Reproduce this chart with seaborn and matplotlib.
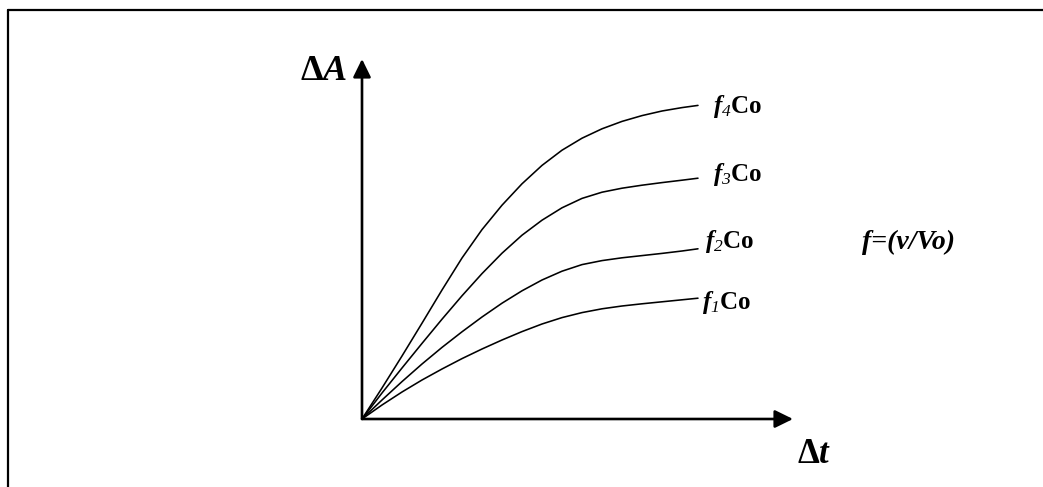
import numpy as np
import pandas as pd
import matplotlib
matplotlib.use("Agg")
import matplotlib.pyplot as plt
from matplotlib.lines import Line2D
import seaborn as sns

# Elapsed time (Δt), shared by every curve (arbitrary units)
delta_t = [0, 1, 2, 3, 4, 5, 6, 7, 8, 9, 10, 11, 12, 13, 14, 15, 16, 16.8]

# Absorbance change (ΔA) for each dilution factor f·Co (arbitrary units)
dA_f1 = [0, 0.70, 1.35, 1.95, 2.50, 3.02, 3.50, 3.95, 4.37, 4.75, 5.07, 5.32,
         5.51, 5.65, 5.76, 5.86, 5.96, 6.04]
dA_f2 = [0, 0.95, 1.87, 2.75, 3.58, 4.36, 5.10, 5.79, 6.41, 6.95, 7.39, 7.72,
         7.92, 8.06, 8.17, 8.28, 8.40, 8.51]
dA_f3 = [0, 1.30, 2.55, 3.78, 4.99, 6.16, 7.27, 8.29, 9.19, 9.94, 10.56, 11.03,
         11.34, 11.54, 11.69, 11.82, 11.94, 12.04]
dA_f4 = [0, 1.55, 3.15, 4.79, 6.45, 8.05, 9.47, 10.69, 11.76, 12.68, 13.44, 14.04,
         14.51, 14.88, 15.17, 15.40, 15.57, 15.68]

curve_names = ["f1Co", "f2Co", "f3Co", "f4Co"]
curve_labels = [r"$\mathit{f}_{\mathsf{1}}\mathrm{Co}$",
                r"$\mathit{f}_{\mathsf{2}}\mathrm{Co}$",
                r"$\mathit{f}_{\mathsf{3}}\mathrm{Co}$",
                r"$\mathit{f}_{\mathsf{4}}\mathrm{Co}$"]

df = pd.DataFrame({
    "dt": delta_t * 4,
    "dA": dA_f1 + dA_f2 + dA_f3 + dA_f4,
    "curve": sum([[n] * len(delta_t) for n in curve_names], []),
})

sns.set_theme(style="white")
plt.rcParams["font.family"] = ["Liberation Serif", "DejaVu Serif"]
plt.rcParams["mathtext.fontset"] = "custom"
plt.rcParams["mathtext.rm"] = "Liberation Serif:bold"
plt.rcParams["mathtext.it"] = "Liberation Serif:italic:bold"
plt.rcParams["mathtext.bf"] = "Liberation Serif:bold"
plt.rcParams["mathtext.sf"] = "Liberation Serif:italic"

W, H = 1043, 487
fig = plt.figure(figsize=(W / 100, H / 100), dpi=100)
fig.patch.set_facecolor("white")

# plotting area: origin of the sketch and the two arrow tips
x0, y0, x1, y1 = 362, 419, 793, 59
ax = fig.add_axes([x0 / W, (H - y0) / H, (x1 - x0) / W, (y0 - y1) / H])
ax.set_xlim(0, 21.55)
ax.set_ylim(0, 18)
ax.set_facecolor("none")
for s in ax.spines.values():
    s.set_visible(False)

sns.lineplot(data=df, x="dt", y="dA", hue="curve", palette=["black"] * 4,
             legend=False, ax=ax, linewidth=1.15, sort=False, clip_on=False)
ax.set_xticks([])
ax.set_yticks([])
ax.set_xlabel("")
ax.set_ylabel("")

# axes drawn as arrows
arrow_kw = dict(arrowstyle="-|>,head_length=0.55,head_width=0.27",
                color="black", lw=1.9, shrinkA=0, shrinkB=0, mutation_scale=20)
ax.annotate("", xy=(1, 0), xytext=(0, 0), xycoords="axes fraction",
            textcoords="axes fraction", arrowprops=arrow_kw)
ax.annotate("", xy=(0, 1), xytext=(0, 0), xycoords="axes fraction",
            textcoords="axes fraction", arrowprops=arrow_kw)

# curve labels at the end of each curve
label_offsets = [(3, -3), (5, 5), (11, 3), (11, -1)]
ends = [dA_f1[-1], dA_f2[-1], dA_f3[-1], dA_f4[-1]]
for lab, yend, off in zip(curve_labels, ends, label_offsets):
    ax.annotate(lab, xy=(delta_t[-1], yend), xytext=off, textcoords="offset points",
                ha="left", va="center", fontsize=18, color="black")

ax.text(-0.035, 0.942, r"$\mathbf{\Delta}\mathit{A}$", transform=ax.transAxes,
        ha="right", va="baseline", fontsize=26, color="black")
ax.text(1.010, -0.122, r"$\mathbf{\Delta}\mathit{t}$", transform=ax.transAxes,
        ha="left", va="baseline", fontsize=25, color="black")
ax.text(1.160, 0.472, "f=(v/Vo)", transform=ax.transAxes, ha="left",
        va="baseline", fontsize=20, fontweight="bold", fontstyle="italic",
        color="black")

# frame lines along the top and left of the figure
fig.add_artist(Line2D([8 / W, 1.0], [(H - 10) / H] * 2, color="black", lw=1.6,
                      transform=fig.transFigure))
fig.add_artist(Line2D([8 / W] * 2, [(H - 10) / H, 0.0], color="black", lw=1.6,
                      transform=fig.transFigure))

fig.savefig("out.png", dpi=100, facecolor="white")
